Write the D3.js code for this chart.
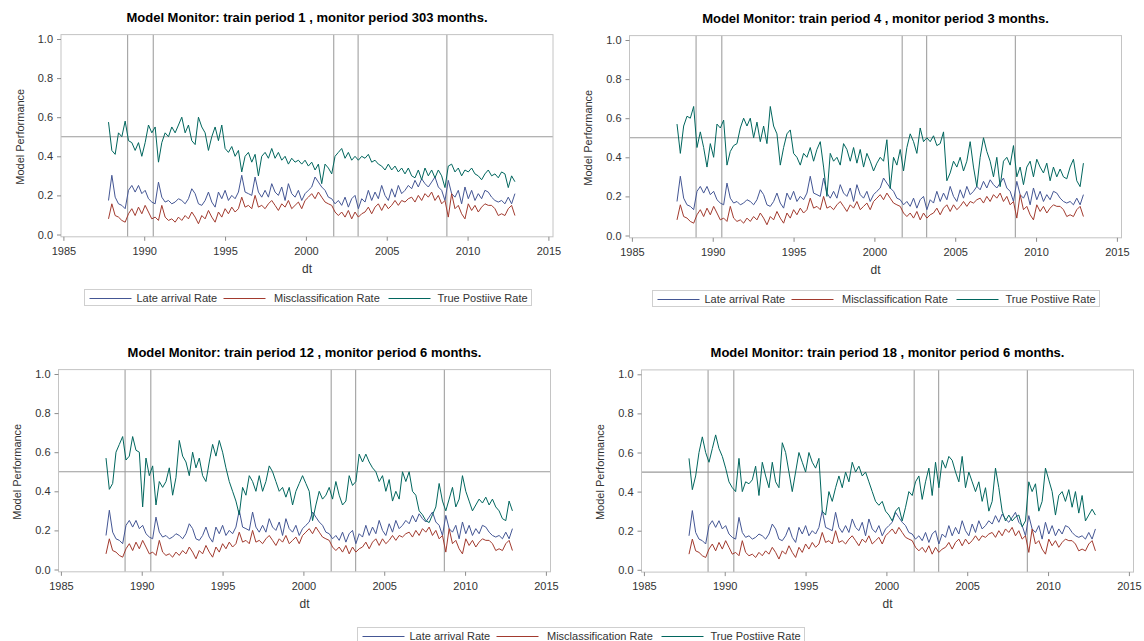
<!DOCTYPE html>
<html>
<head>
<meta charset="utf-8">
<script src="https://cdn.jsdelivr.net/npm/d3@7"></script>
<style>
  body { margin: 0; background: #fff; }
  text { font-family: "Liberation Sans", Arial, sans-serif; }
</style>
</head>
<body>
<svg id="chart" width="1144" height="641"></svg>
<script>
// monitoring window, values read roughly every 2.5 months
var startYear = 1987.79, endYear = 2012.93;

var lateArrival = [0.174,0.303,0.191,0.157,0.149,0.132,0.226,0.251,0.217,0.251,
  0.209,0.226,0.183,0.166,0.157,0.268,0.191,0.166,0.174,0.157,
  0.166,0.183,0.174,0.157,0.183,0.234,0.209,0.157,0.149,0.174,
  0.217,0.166,0.140,0.217,0.183,0.226,0.174,0.200,0.183,0.217,
  0.303,0.217,0.209,0.200,0.294,0.217,0.191,0.226,0.191,0.260,
  0.217,0.200,0.243,0.174,0.260,0.209,0.191,0.226,0.174,0.209,
  0.226,0.243,0.294,0.268,0.243,0.226,0.191,0.183,0.157,0.174,
  0.149,0.191,0.140,0.183,0.200,0.132,0.183,0.166,0.226,0.174,
  0.217,0.183,0.251,0.200,0.174,0.234,0.191,0.251,0.209,0.226,
  0.251,0.234,0.277,0.243,0.285,0.260,0.243,0.268,0.294,0.243,
  0.226,0.174,0.277,0.209,0.191,0.226,0.157,0.243,0.183,0.226,
  0.174,0.209,0.183,0.226,0.217,0.191,0.174,0.166,0.174,0.157,
  0.191,0.157,0.209];

var misclassification = [0.080,0.157,0.097,0.089,0.072,0.063,0.106,0.132,0.097,0.140,
  0.106,0.149,0.115,0.080,0.089,0.072,0.149,0.089,0.072,0.080,
  0.063,0.089,0.072,0.097,0.080,0.115,0.089,0.055,0.097,0.080,
  0.123,0.089,0.063,0.115,0.089,0.132,0.106,0.140,0.115,0.132,
  0.191,0.140,0.149,0.132,0.200,0.140,0.149,0.132,0.157,0.174,
  0.149,0.123,0.157,0.140,0.174,0.132,0.149,0.166,0.132,0.174,
  0.191,0.209,0.183,0.217,0.191,0.166,0.157,0.149,0.115,0.097,
  0.115,0.089,0.123,0.080,0.115,0.089,0.106,0.115,0.140,0.106,
  0.140,0.157,0.123,0.157,0.132,0.149,0.174,0.149,0.174,0.166,
  0.183,0.191,0.166,0.200,0.174,0.209,0.191,0.217,0.174,0.200,
  0.157,0.174,0.089,0.209,0.132,0.149,0.106,0.080,0.157,0.123,
  0.149,0.115,0.140,0.157,0.149,0.149,0.132,0.097,0.106,0.097,
  0.132,0.149,0.097];

var tprTrain1 = [0.575,0.43,0.41,0.52,0.50,0.58,0.48,0.47,0.43,0.47,
  0.40,0.47,0.56,0.52,0.55,0.37,0.47,0.52,0.50,0.55,
  0.52,0.56,0.60,0.52,0.56,0.48,0.46,0.60,0.55,0.52,
  0.43,0.50,0.55,0.48,0.56,0.44,0.42,0.45,0.40,0.43,
  0.32,0.40,0.42,0.37,0.41,0.30,0.40,0.42,0.39,0.44,
  0.39,0.42,0.38,0.40,0.36,0.39,0.37,0.38,0.36,0.38,
  0.35,0.37,0.33,0.36,0.26,0.36,0.34,0.31,0.40,0.42,
  0.44,0.39,0.42,0.38,0.40,0.38,0.40,0.39,0.41,0.37,
  0.38,0.36,0.35,0.33,0.36,0.33,0.35,0.32,0.34,0.31,
  0.34,0.30,0.29,0.33,0.28,0.34,0.30,0.33,0.29,0.33,
  0.30,0.24,0.35,0.36,0.32,0.34,0.30,0.33,0.32,0.34,
  0.31,0.30,0.28,0.31,0.33,0.30,0.31,0.29,0.32,0.31,
  0.24,0.30,0.27];

var tprTrain4 = [0.57,0.42,0.56,0.61,0.60,0.66,0.45,0.53,0.45,0.35,
  0.47,0.40,0.57,0.55,0.59,0.36,0.43,0.46,0.47,0.55,
  0.60,0.56,0.60,0.50,0.58,0.48,0.56,0.47,0.66,0.56,
  0.52,0.36,0.45,0.52,0.54,0.42,0.40,0.36,0.42,0.40,
  0.45,0.38,0.44,0.48,0.35,0.20,0.42,0.38,0.40,0.36,
  0.47,0.44,0.38,0.45,0.37,0.44,0.35,0.42,0.38,0.33,
  0.37,0.40,0.38,0.49,0.24,0.40,0.36,0.44,0.33,0.45,
  0.52,0.48,0.42,0.55,0.48,0.50,0.48,0.51,0.46,0.47,
  0.53,0.28,0.32,0.38,0.35,0.40,0.33,0.38,0.48,0.35,
  0.25,0.40,0.50,0.43,0.38,0.30,0.40,0.25,0.38,0.40,
  0.36,0.46,0.30,0.35,0.26,0.35,0.38,0.30,0.39,0.35,
  0.32,0.37,0.28,0.35,0.30,0.34,0.30,0.29,0.35,0.39,
  0.28,0.25,0.37];

var tprTrain12 = [0.57,0.41,0.44,0.60,0.64,0.68,0.56,0.58,0.68,0.61,
  0.60,0.32,0.57,0.48,0.53,0.33,0.45,0.42,0.45,0.52,
  0.38,0.47,0.66,0.58,0.55,0.48,0.60,0.52,0.57,0.48,
  0.45,0.55,0.64,0.58,0.66,0.60,0.52,0.45,0.40,0.35,
  0.28,0.42,0.38,0.48,0.45,0.40,0.48,0.40,0.45,0.53,
  0.50,0.45,0.40,0.42,0.37,0.42,0.33,0.40,0.44,0.48,
  0.44,0.40,0.25,0.33,0.40,0.36,0.38,0.42,0.36,0.45,
  0.38,0.33,0.35,0.48,0.43,0.45,0.59,0.55,0.59,0.55,
  0.52,0.50,0.45,0.48,0.40,0.46,0.35,0.40,0.36,0.50,
  0.45,0.50,0.40,0.38,0.30,0.28,0.25,0.24,0.28,0.32,
  0.44,0.35,0.30,0.36,0.42,0.32,0.36,0.48,0.40,0.35,
  0.30,0.33,0.36,0.34,0.37,0.33,0.36,0.32,0.30,0.26,
  0.25,0.35,0.30];

var tprTrain18 = [0.57,0.41,0.48,0.60,0.68,0.60,0.55,0.62,0.69,0.62,
  0.58,0.52,0.45,0.42,0.40,0.57,0.40,0.45,0.44,0.46,
  0.53,0.38,0.55,0.48,0.42,0.55,0.45,0.42,0.65,0.60,
  0.50,0.40,0.50,0.60,0.55,0.50,0.60,0.55,0.52,0.57,
  0.30,0.28,0.40,0.35,0.42,0.48,0.42,0.50,0.45,0.55,
  0.50,0.53,0.48,0.50,0.45,0.40,0.35,0.33,0.35,0.30,
  0.28,0.25,0.30,0.32,0.25,0.32,0.40,0.38,0.45,0.48,
  0.36,0.45,0.52,0.38,0.55,0.42,0.56,0.52,0.58,0.56,
  0.50,0.45,0.58,0.42,0.50,0.45,0.40,0.45,0.35,0.42,
  0.30,0.35,0.52,0.42,0.30,0.25,0.28,0.25,0.27,0.28,
  0.22,0.25,0.45,0.40,0.44,0.30,0.35,0.52,0.46,0.40,
  0.28,0.38,0.40,0.35,0.41,0.32,0.40,0.29,0.38,0.25,
  0.28,0.31,0.28];

var panelTitles = [
  "Model Monitor: train period 1 , monitor period 303 months.",
  "Model Monitor: train period 4 , monitor period 3 months.",
  "Model Monitor: train period 12 , monitor period 6 months.",
  "Model Monitor: train period 18 , monitor period 6 months."
];
var refYears = [1988.97, 1990.56, 2001.72, 2003.23, 2008.72];
var refValue = 0.5;
var xTicks = [1985, 1990, 1995, 2000, 2005, 2010, 2015];
var yTicks = [0, 0.2, 0.4, 0.6, 0.8, 1.0];
var seriesNames = ["Late arrival Rate", "Misclassification Rate", "True Postiive Rate"];
var seriesColors = ["#445694", "#a23a2e", "#01665e"];

var svg = d3.select("#chart");

var frameW = 492, plotH = 195.5;

var panels = [
  {left: 61,    top: 39,    title: panelTitles[0], tpr: tprTrain1,  legend: true},
  {left: 629.5, top: 40,    title: panelTitles[1], tpr: tprTrain4,  legend: true},
  {left: 58.5,  top: 374,   title: panelTitles[2], tpr: tprTrain12, legend: false},
  {left: 641.5, top: 374.3, title: panelTitles[3], tpr: tprTrain18, legend: false}
];

function toPoints(values) {
  var step = (endYear - startYear) / (values.length - 1);
  return values.map(function(v, i){ return [startYear + i * step, v]; });
}

function drawLegend(cx, top) {
  var w = 447;
  var g = svg.append("g").attr("class", "legend")
      .attr("transform", "translate(" + Math.round(cx - w / 2) + "," + Math.round(top) + ")");
  g.append("rect")
    .attr("x", 0.5).attr("y", 0.5)
    .attr("width", w).attr("height", 16)
    .attr("fill", "#fff")
    .attr("stroke", "#cfcfcf");
  var lineX = [5.5, 139.5, 304.5];
  var textX = [52.5, 190, 353.5];
  seriesNames.forEach(function(name, i){
    g.append("line")
      .attr("x1", lineX[i]).attr("x2", lineX[i] + 42)
      .attr("y1", 9.5).attr("y2", 9.5)
      .attr("stroke", seriesColors[i])
      .attr("stroke-width", 1);
    g.append("text")
      .attr("x", textX[i]).attr("y", 12.7)
      .style("font-size", "11px")
      .style("fill", "#333")
      .text(name);
  });
}

function drawPanel(p) {
  var x = d3.scaleLinear().domain([1985, 2015]).range([p.left + 2.4, p.left + 2.4 + 485]);
  var y = d3.scaleLinear().domain([0, 1]).range([p.top + plotH, p.top]);
  var frameTop = p.top - 4.4, frameBottom = p.top + plotH + 2.3;
  var cx = p.left + frameW / 2;

  var g = svg.append("g").attr("class", "panel");

  g.append("text")
    .attr("x", cx).attr("y", p.top - 17)
    .attr("text-anchor", "middle")
    .style("font-size", "13px")
    .style("font-weight", "bold")
    .style("fill", "#000")
    .text(p.title);

  // reference lines under the series
  g.selectAll(".vref")
    .data(refYears)
    .enter()
    .append("line")
    .attr("class", "vref")
    .attr("x1", function(d){ return x(d); })
    .attr("x2", function(d){ return x(d); })
    .attr("y1", frameTop).attr("y2", frameBottom)
    .attr("stroke", "#a8a8a8")
    .attr("stroke-width", 1.2);

  g.append("line")
    .attr("x1", p.left).attr("x2", p.left + frameW)
    .attr("y1", y(refValue)).attr("y2", y(refValue))
    .attr("stroke", "#9a9a9a")
    .attr("stroke-width", 1.2);

  var line = d3.line()
    .x(function(d){ return x(d[0]); })
    .y(function(d){ return y(d[1]); });

  [lateArrival, misclassification, p.tpr].forEach(function(values, i){
    g.append("path")
      .datum(toPoints(values))
      .attr("d", line)
      .attr("fill", "none")
      .attr("stroke", seriesColors[i])
      .attr("stroke-width", 1)
      .attr("stroke-linejoin", "round");
  });

  g.append("rect")
    .attr("x", p.left).attr("y", frameTop)
    .attr("width", frameW).attr("height", frameBottom - frameTop)
    .attr("fill", "none")
    .attr("stroke", "#c4c4c4");

  var xAxis = g.append("g")
    .attr("transform", "translate(0," + frameBottom + ")")
    .call(d3.axisBottom(x).tickValues(xTicks).tickFormat(d3.format("d"))
      .tickSize(4).tickSizeOuter(0).tickPadding(6.5));
  var yAxis = g.append("g")
    .attr("transform", "translate(" + p.left + ",0)")
    .call(d3.axisLeft(y).tickValues(yTicks).tickFormat(d3.format(".1f"))
      .tickSize(4).tickSizeOuter(0).tickPadding(4));

  [xAxis, yAxis].forEach(function(a){
    a.select(".domain").remove();
    a.selectAll(".tick line").attr("stroke", "#8c8c8c");
    a.selectAll(".tick text")
      .style("font-family", "'Liberation Sans', Arial, sans-serif")
      .style("font-size", "11px")
      .style("fill", "#333");
  });

  g.append("text")
    .attr("transform", "translate(" + (p.left - 37.5) + "," + (p.top + plotH / 2) + ") rotate(-90)")
    .attr("text-anchor", "middle")
    .style("font-size", "11px")
    .style("fill", "#333")
    .text("Model Performance");

  g.append("text")
    .attr("x", cx).attr("y", p.top + plotH + 38)
    .attr("text-anchor", "middle")
    .style("font-size", "12px")
    .style("fill", "#333")
    .text("dt");

  if (p.legend) drawLegend(cx, p.top + plotH + 54);
}

panels.forEach(drawPanel);

// shared legend for the bottom row
drawLegend(580.7, 626.7);
</script>
</body>
</html>
